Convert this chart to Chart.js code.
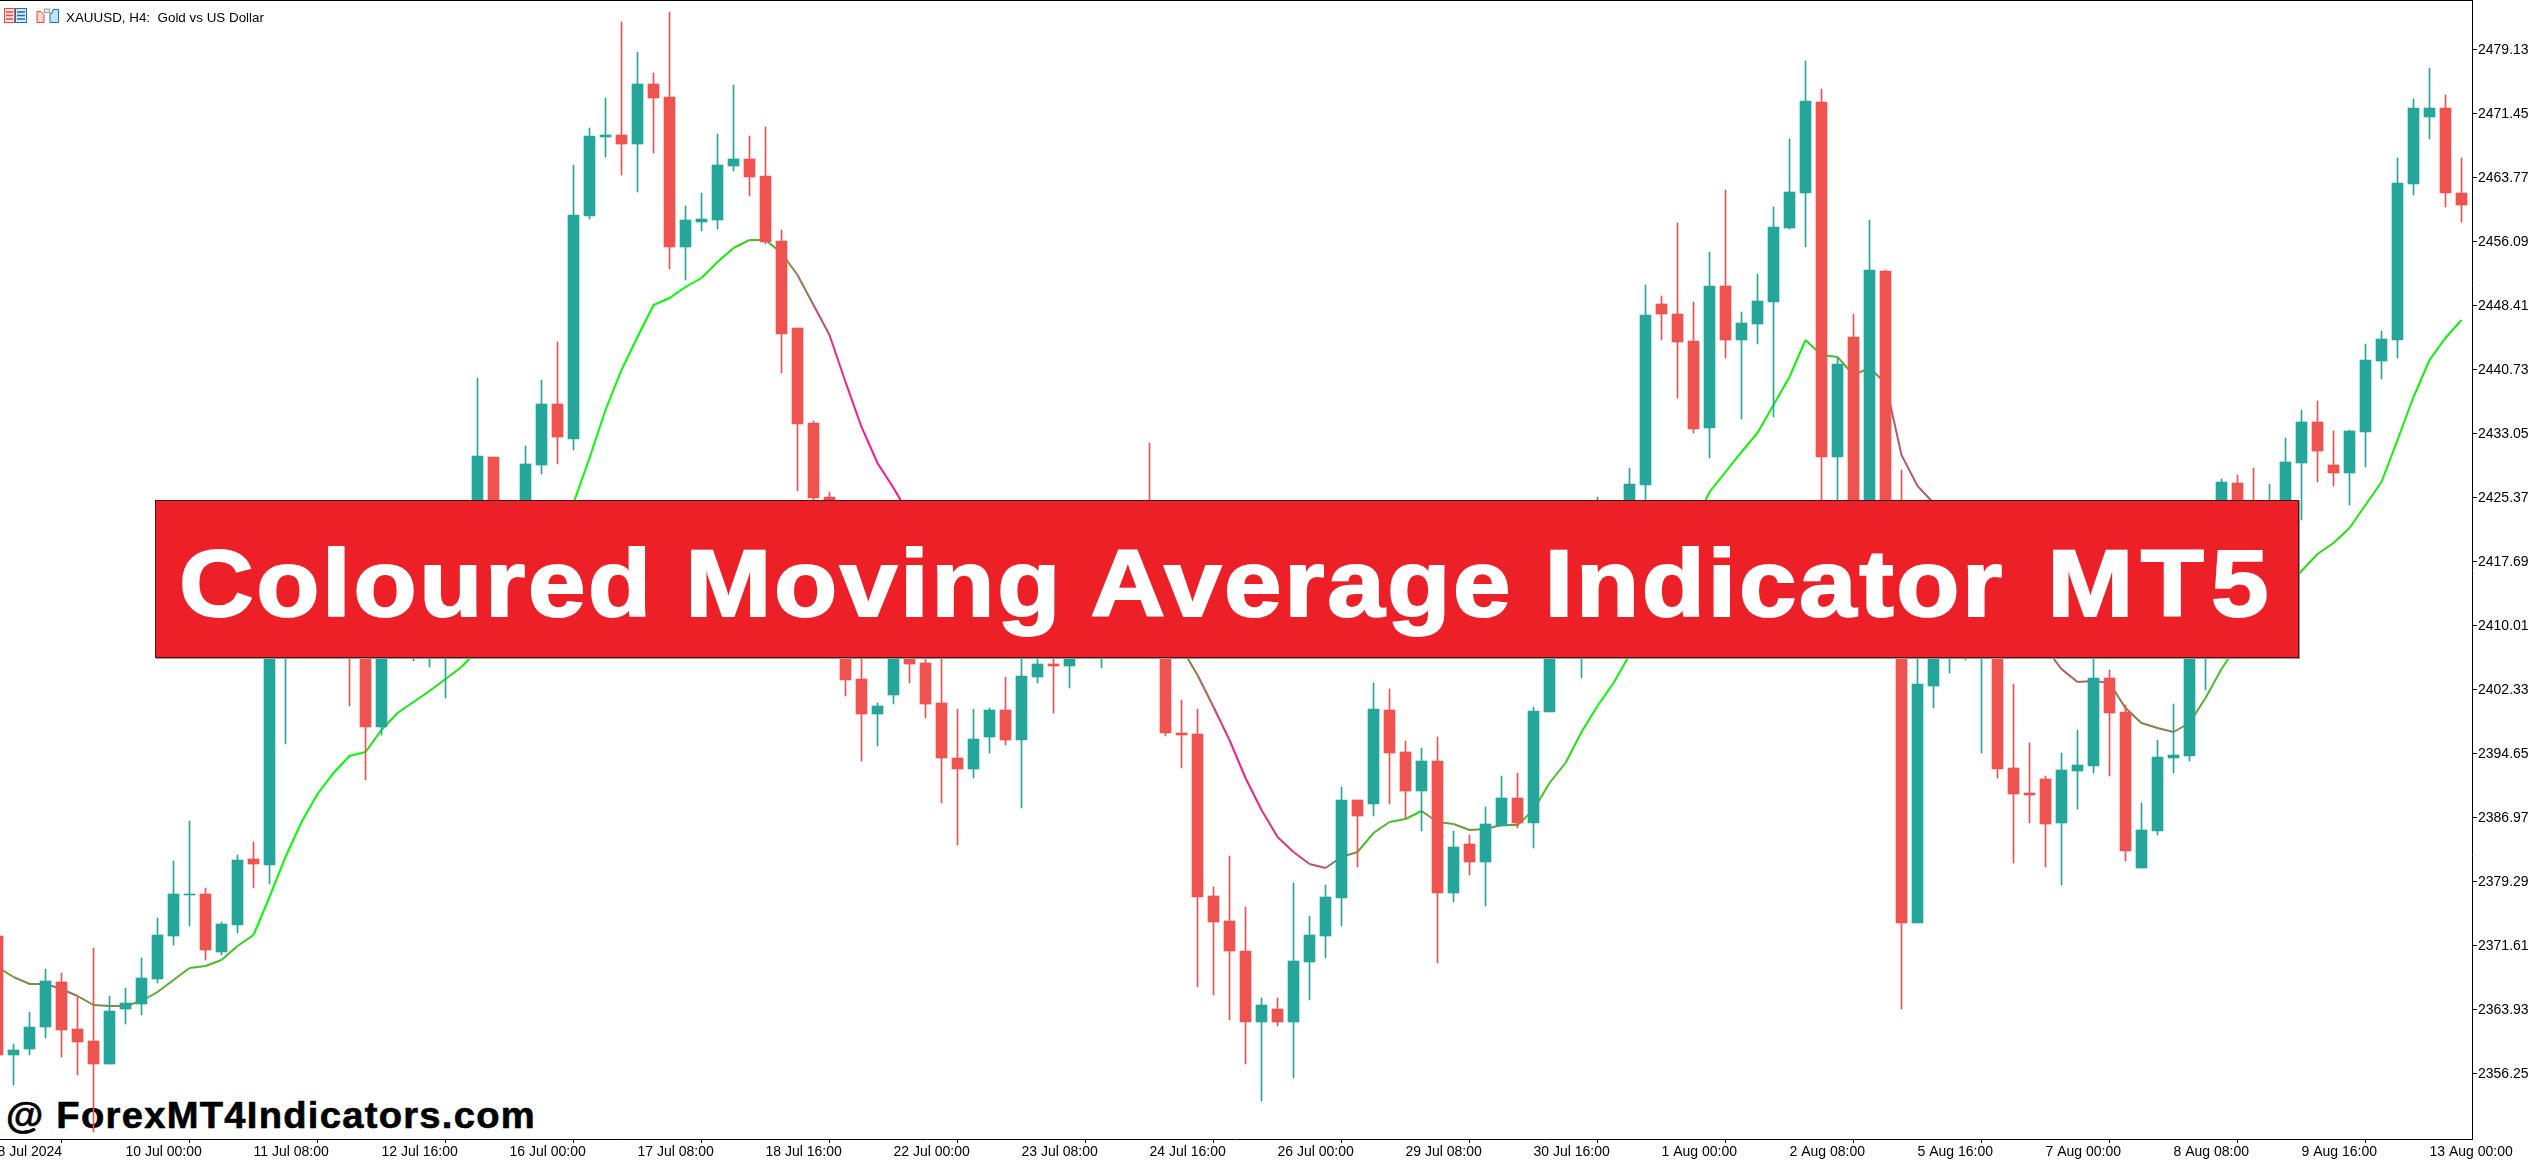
<!DOCTYPE html>
<html>
<head>
<meta charset="utf-8">
<title>XAUUSD H4</title>
<script src="https://cdn.jsdelivr.net/npm/chart.js@4"></script>
<style>
    html, body { margin: 0; padding: 0; background: #fff; width: 2532px; height: 1161px; overflow: hidden; }
    #chart { position: absolute; left: 0; top: 0; z-index: 2; }
    #topLine { position: absolute; left: 0; top: 0; width: 2473px; height: 1px; background: #000; z-index: 3; }
    #symbol { position: absolute; left: 66px; top: 10px; font: 13.4px "Liberation Sans"; color: #000; z-index: 3; white-space: pre; }
    #icons { position: absolute; left: 4px; top: 8px; z-index: 3; }
    #watermark { position: absolute; left: 6px; top: 1095px; font: 700 36px "Liberation Sans"; color: #000; letter-spacing: 1.2px; white-space: pre; z-index: 1; transform: scaleX(1.06); transform-origin: left top; -webkit-text-stroke: 0.6px #000; }
    #banner { position: absolute; left: 155px; top: 500px; width: 2142px; height: 156px; background: #ed1f27; border: 1px solid #4a1518; box-shadow: 1px 1px 0 #999; z-index: 4; }
    #banner > span { position: absolute; left: 23px; top: 29px; font: 700 94px "Liberation Sans"; color: #fff; letter-spacing: 2.4px; white-space: pre; transform: scaleX(1.1); transform-origin: left top; -webkit-text-stroke: 2px #fff; }
    #banner b { font-weight: 700; letter-spacing: 6.5px; margin-left: 10px; }
</style>
</head>
<body>
<canvas id="chart" width="2532" height="1161"></canvas>
<div id="topLine"></div>
<svg id="icons" width="56" height="16" viewBox="0 0 56 16">
    <rect x="0.5" y="0.5" width="10" height="14" fill="#fde4e1" stroke="#e8473f"/>
    <path d="M2 4h7M2 7.5h7M2 11h7" stroke="#e8473f" stroke-width="1.4"/>
    <rect x="11.5" y="0.5" width="11" height="14" fill="#d5ecfb" stroke="#1a6fb5"/>
    <path d="M13 4h8M13 7.5h8M13 11h8" stroke="#1a6fb5" stroke-width="1.4"/>
    <path d="M33 3.5h4l3 3v8h-7z" fill="#fbd5cf" stroke="#e8473f"/>
    <rect x="40.5" y="1" width="5" height="3.5" fill="#eee" stroke="#999"/>
    <path d="M46 5.5h2l1-4h5.5v13H46z" fill="#bfe3fa" stroke="#1a6fb5"/>
</svg>
<div id="symbol">XAUUSD, H4:  Gold vs US Dollar</div>
<div id="watermark">@ ForexMT4Indicators.com</div>
<div id="banner"><span>Coloured Moving Average Indicator <b>MT5</b></span></div>

<script>
// candle positions, first one sits half off the left edge
const firstCandle = -1;

const opens = [
    2372.77, 2358.49, 2359.21, 2361.85, 2367.25, 2361.61, 2360.17, 2357.41, 2364.01, 2364.61, 2367.61, 2372.77, 2377.69, 2377.81, 2370.85, 2374.09, 2382.01,
    2381.29, 2408.29, 2410.69, 2408.29, 2413.09, 2416.69, 2413.09, 2397.85, 2413.09, 2417.89, 2413.09, 2416.69, 2420.29, 2422.69, 2430.25, 2420.29, 2422.69,
    2429.29, 2436.61, 2432.41, 2459.17, 2468.65, 2468.89, 2467.81, 2475.01, 2473.45, 2455.45, 2458.45, 2458.69, 2465.17, 2466.01, 2463.97, 2456.17, 2445.73,
    2434.33, 2425.45, 2416.69, 2403.61, 2399.41, 2401.69, 2408.29, 2405.53, 2400.73, 2394.13, 2392.81, 2396.65, 2399.89, 2396.29, 2403.85, 2405.41, 2405.17,
    2407.09, 2410.69, 2413.09, 2410.69, 2416.69, 2408.29, 2397.13, 2397.01, 2377.57, 2374.57, 2370.97, 2362.45, 2364.01, 2362.45, 2369.65, 2372.77, 2377.33,
    2389.09, 2388.61, 2399.89, 2394.85, 2390.17, 2393.77, 2377.93, 2383.81, 2381.65, 2385.97, 2389.33, 2386.33, 2399.65, 2409.49, 2407.09, 2413.09, 2417.89,
    2415.49, 2426.89, 2448.61, 2447.41, 2444.17, 2433.73, 2450.77, 2444.29, 2446.21, 2448.85, 2457.73, 2461.93, 2472.85, 2430.25, 2444.65, 2417.89, 2452.57,
    2410.69, 2374.33, 2402.77, 2408.29, 2410.69, 2408.29, 2413.09, 2392.93, 2389.93, 2391.61, 2386.33, 2392.57, 2393.17, 2403.73, 2399.65, 2380.93, 2385.37,
    2394.13, 2394.37, 2408.29, 2413.09, 2427.13, 2420.29, 2417.89, 2422.69, 2429.53, 2434.45, 2429.29, 2428.33, 2433.25, 2441.77, 2444.29, 2463.01, 2471.05,
    2472.13, 2461.93,
];
const highs = [
    2373.49, 2359.81, 2363.65, 2368.81, 2368.33, 2365.45, 2371.33, 2365.57, 2366.53, 2370.13, 2374.93, 2381.77, 2386.57, 2378.53, 2374.45, 2382.49, 2384.05,
    2409.49, 2413.09, 2412.49, 2414.29, 2417.89, 2419.09, 2414.29, 2414.29, 2419.69, 2420.29, 2419.09, 2422.09, 2424.49, 2439.73, 2430.25, 2423.89, 2431.57,
    2439.49, 2444.05, 2465.29, 2469.73, 2473.33, 2482.45, 2478.85, 2476.33, 2483.65, 2460.37, 2461.93, 2469.01, 2474.89, 2468.77, 2469.85, 2457.49, 2445.73,
    2434.57, 2426.05, 2417.89, 2406.49, 2400.73, 2410.69, 2409.49, 2407.69, 2407.09, 2399.99, 2399.99, 2400.13, 2403.85, 2407.69, 2407.09, 2408.29, 2408.29,
    2411.89, 2414.29, 2417.89, 2417.89, 2431.93, 2411.89, 2401.09, 2399.99, 2378.65, 2382.37, 2376.25, 2365.33, 2365.33, 2379.13, 2375.17, 2378.89, 2390.65,
    2389.09, 2403.13, 2402.41, 2396.17, 2395.33, 2396.65, 2385.37, 2384.89, 2388.25, 2391.97, 2392.33, 2400.25, 2410.69, 2411.29, 2414.29, 2425.45, 2420.29,
    2428.93, 2450.89, 2449.57, 2458.33, 2448.85, 2454.85, 2462.29, 2447.65, 2452.21, 2460.25, 2468.41, 2477.77, 2474.41, 2442.13, 2447.41, 2458.69, 2452.69,
    2428.69, 2417.89, 2410.69, 2413.09, 2411.89, 2414.29, 2414.29, 2403.01, 2395.93, 2391.97, 2394.73, 2397.49, 2408.29, 2404.69, 2400.49, 2388.73, 2396.29,
    2400.61, 2410.09, 2413.09, 2427.61, 2428.09, 2428.93, 2427.01, 2432.53, 2435.89, 2436.97, 2433.37, 2433.49, 2443.81, 2445.37, 2466.13, 2473.21, 2476.93,
    2473.69, 2466.13,
];
const lows = [
    2357.89, 2354.89, 2358.49, 2360.53, 2358.25, 2356.09, 2349.25, 2357.41, 2362.21, 2363.29, 2367.13, 2371.69, 2373.97, 2369.89, 2370.49, 2373.13, 2378.53,
    2379.01, 2395.81, 2407.09, 2407.33, 2411.89, 2400.37, 2391.49, 2396.89, 2411.89, 2405.77, 2405.05, 2401.33, 2419.09, 2421.49, 2417.89, 2419.09, 2422.09,
    2428.21, 2429.41, 2431.09, 2458.81, 2466.25, 2464.09, 2462.05, 2466.73, 2452.81, 2451.49, 2457.37, 2457.61, 2464.57, 2461.57, 2455.81, 2440.33, 2426.17,
    2424.49, 2416.09, 2401.57, 2393.77, 2395.57, 2400.61, 2403.13, 2398.93, 2388.73, 2383.69, 2391.73, 2394.73, 2395.69, 2388.13, 2403.13, 2399.53, 2402.53,
    2406.49, 2404.93, 2409.49, 2409.49, 2407.09, 2396.77, 2392.93, 2366.65, 2365.69, 2362.69, 2357.41, 2352.97, 2361.97, 2355.73, 2365.09, 2370.13, 2373.97,
    2381.05, 2387.17, 2388.61, 2386.81, 2385.37, 2369.53, 2376.85, 2380.09, 2376.37, 2385.97, 2385.73, 2383.33, 2399.65, 2406.49, 2403.73, 2411.89, 2414.29,
    2414.29, 2421.49, 2444.29, 2437.33, 2433.13, 2430.13, 2442.13, 2434.81, 2443.81, 2435.05, 2457.61, 2455.45, 2421.49, 2417.89, 2416.69, 2415.49, 2408.29,
    2364.01, 2374.33, 2400.13, 2404.33, 2405.89, 2394.73, 2391.73, 2381.53, 2386.33, 2381.05, 2378.89, 2388.01, 2392.33, 2391.97, 2381.77, 2380.93, 2384.89,
    2392.33, 2393.77, 2402.29, 2410.69, 2419.09, 2416.69, 2416.69, 2420.29, 2422.69, 2427.25, 2426.77, 2424.49, 2429.05, 2439.61, 2442.13, 2461.69, 2468.41,
    2460.25, 2458.45,
];
const closes = [
    2358.49, 2359.09, 2361.85, 2367.37, 2361.49, 2360.05, 2357.41, 2363.77, 2364.73, 2367.73, 2372.89, 2377.81, 2377.81, 2371.09, 2374.21, 2381.89, 2381.41,
    2408.29, 2410.69, 2408.29, 2413.09, 2416.69, 2413.09, 2397.85, 2413.09, 2417.89, 2413.09, 2416.69, 2420.29, 2422.69, 2430.37, 2420.29, 2422.69, 2429.41,
    2436.61, 2432.65, 2459.29, 2468.77, 2468.89, 2467.81, 2475.01, 2473.33, 2455.45, 2458.69, 2458.81, 2465.29, 2466.01, 2463.85, 2456.05, 2445.01, 2434.21,
    2425.33, 2416.69, 2403.49, 2399.41, 2400.37, 2408.29, 2405.41, 2400.61, 2394.13, 2392.81, 2396.41, 2399.89, 2396.29, 2403.97, 2405.41, 2405.17, 2407.09,
    2410.69, 2413.09, 2410.69, 2416.69, 2408.29, 2397.13, 2396.89, 2377.45, 2374.45, 2370.97, 2362.45, 2364.49, 2362.45, 2369.77, 2372.89, 2377.45, 2389.09,
    2387.17, 2399.99, 2394.73, 2390.17, 2393.77, 2377.93, 2383.45, 2381.65, 2386.21, 2389.33, 2386.33, 2399.77, 2409.49, 2407.09, 2413.09, 2417.89, 2415.49,
    2427.01, 2447.29, 2447.41, 2444.05, 2433.61, 2450.77, 2444.29, 2446.33, 2448.97, 2457.85, 2462.05, 2472.97, 2430.25, 2441.41, 2417.89, 2452.69, 2410.69,
    2374.33, 2403.01, 2408.29, 2410.69, 2408.29, 2413.09, 2392.81, 2389.81, 2389.69, 2386.21, 2392.69, 2393.29, 2403.73, 2399.53, 2382.97, 2385.49, 2394.25,
    2394.49, 2408.29, 2411.89, 2427.25, 2420.29, 2417.89, 2422.69, 2429.65, 2434.45, 2430.97, 2428.33, 2433.37, 2441.89, 2444.41, 2463.13, 2472.13, 2472.13,
    2461.93, 2460.49,
];
const movingAverage = [
    2369.05, 2367.85, 2367.01, 2367.01, 2366.41, 2365.57, 2364.49, 2364.37, 2364.37, 2364.97, 2366.05, 2367.49, 2368.93, 2369.17, 2369.89, 2371.57, 2372.89,
    2377.45, 2382.25, 2386.45, 2389.81, 2392.33, 2394.37, 2394.85, 2397.49, 2399.53, 2400.85, 2402.17, 2403.61, 2405.05, 2407.09, 2408.89, 2411.29, 2414.89,
    2418.49, 2421.49, 2424.73, 2430.13, 2435.89, 2440.69, 2444.65, 2448.49, 2449.33, 2450.65, 2451.73, 2453.65, 2455.33, 2456.29, 2456.29, 2454.73, 2452.09,
    2448.49, 2444.89, 2439.25, 2433.85, 2429.53, 2426.53, 2423.29, 2420.29, 2417.29, 2414.29, 2412.49, 2411.29, 2410.45, 2410.09, 2410.09, 2410.09, 2410.45,
    2411.29, 2411.89, 2411.89, 2411.29, 2410.09, 2408.89, 2407.33, 2404.09, 2400.25, 2396.29, 2391.73, 2387.89, 2384.65, 2382.85, 2381.41, 2380.93, 2382.25,
    2382.85, 2385.13, 2386.45, 2386.81, 2387.77, 2386.45, 2386.21, 2385.49, 2385.61, 2386.09, 2386.09, 2387.89, 2391.13, 2393.53, 2397.25, 2400.37, 2403.13,
    2406.49, 2410.45, 2414.29, 2418.25, 2422.09, 2426.05, 2428.45, 2430.85, 2433.13, 2436.49, 2439.85, 2444.29, 2442.49, 2442.25, 2440.09, 2440.93, 2439.13,
    2430.49, 2426.77, 2424.73, 2422.57, 2420.29, 2417.89, 2415.49, 2413.09, 2410.69, 2407.33, 2404.81, 2403.25, 2403.37, 2403.13, 2400.13, 2398.33, 2397.73,
    2397.25, 2398.33, 2401.33, 2404.81, 2407.69, 2410.09, 2412.13, 2414.29, 2416.57, 2418.61, 2419.93, 2421.73, 2424.49, 2427.25, 2432.29, 2437.45, 2441.89,
    2444.53, 2446.69,
];
// colour buffer of the indicator: 0 = rising (green), 1 = falling (pink)
const maTrend = [
    0.35, 0.4, 0.5, 0.5, 0.6, 0.6, 0.55, 0.5, 0.5, 0.4, 0.35, 0.35, 0.35, 0.3, 0.3, 0.25, 0.2,
    0, 0, 0, 0, 0, 0, 0, 0.1, 0.1, 0.1, 0.1, 0.1, 0.1, 0, 0, 0, 0,
    0, 0, 0, 0, 0, 0, 0, 0, 0, 0, 0, 0.1, 0.12, 0.2, 0.25, 0.35, 0.5,
    0.6, 0.75, 0.9, 1, 1, 1, 1, 1, 1, 1, 1, 1, 1, 1, 1, 1, 1,
    1, 1, 1, 1, 1, 1, 0.55, 0.55, 0.65, 0.85, 0.95, 0.95, 0.9, 0.85, 0.8, 0.75, 0.6,
    0.5, 0.3, 0.3, 0.25, 0.2, 0.35, 0.4, 0.45, 0.45, 0.45, 0.45, 0.2, 0.25, 0.3, 0.15, 0.05, 0,
    0.05, 0.05, 0.05, 0.05, 0.05, 0.05, 0.05, 0.05, 0.05, 0.05, 0.05, 0.05, 0.2, 0.25, 0.35, 0.4, 0.5,
    0.7, 0.7, 0.7, 0.8, 0.8, 0.8, 0.8, 0.8, 0.8, 0.8, 0.7, 0.7, 0.65, 0.6, 0.55, 0.55, 0.55,
    0.55, 0.45, 0.35, 0.3, 0.2, 0.15, 0.15, 0.15, 0.15, 0.15, 0.15, 0.15, 0.1, 0.1, 0.05, 0.05, 0.05,
    0.05, 0.05,
];
const priceTicks = [
    2479.13, 2471.45, 2463.77, 2456.09, 2448.41, 2440.73, 2433.05, 2425.37, 2417.69, 2410.01, 2402.33, 2394.65, 2386.97, 2379.29, 2371.61, 2363.93, 2356.25,
];
const timeLabels = [
    "8 Jul 2024", "10 Jul 00:00", "11 Jul 08:00", "12 Jul 16:00", "16 Jul 00:00", "17 Jul 08:00", "18 Jul 16:00", "22 Jul 00:00", "23 Jul 08:00", "24 Jul 16:00",
    "26 Jul 00:00", "29 Jul 08:00", "30 Jul 16:00", "1 Aug 00:00", "2 Aug 08:00", "5 Aug 16:00", "7 Aug 00:00", "8 Aug 08:00", "9 Aug 16:00", "13 Aug 00:00",
];

const BULL = "#26a69a";
const BEAR = "#ef5350";
const candleIdx = opens.map((_, i) => firstCandle + i);
const candleColors = opens.map((o, i) => (closes[i] >= o ? BULL : BEAR));
const labelFont = { family: "Liberation Sans", size: 14 };

function trendColor(t) {
    const r = Math.round(255 * t);
    const g = Math.round(255 + (20 - 255) * t);
    const b = Math.round(147 * t);
    return `rgb(${r},${g},${b})`;
}

new Chart(document.getElementById("chart"), {
    data: {
        datasets: [
            {
                type: "bar",
                order: 1,
                grouped: false,
                barThickness: 11,
                backgroundColor: candleColors,
                data: candleIdx.map((n, i) => ({ x: n, y: [opens[i], closes[i]] })),
            },
            {
                type: "bar",
                order: 2,
                grouped: false,
                barThickness: 1,
                backgroundColor: candleColors,
                data: candleIdx.map((n, i) => ({ x: n, y: [lows[i], highs[i]] })),
            },
            {
                type: "line",
                order: 3,
                borderWidth: 2,
                pointRadius: 0,
                tension: 0,
                borderColor: trendColor(0),
                segment: { borderColor: (c) => trendColor(maTrend[c.p1DataIndex]) },
                data: candleIdx.map((n, i) => ({ x: n, y: movingAverage[i] })),
            },
        ],
    },
    options: {
        responsive: false,
        animation: false,
        devicePixelRatio: 1,
        layout: { padding: { top: 1, left: 0, right: 0, bottom: 0 } },
        plugins: { legend: { display: false }, tooltip: { enabled: false } },
        scales: {
            x: {
                type: "linear",
                position: "bottom",
                offset: false,
                min: -0.84375,
                max: 153.65625,
                afterBuildTicks: (s) => {
                    s.ticks = timeLabels.map((_, k) => ({ value: firstCandle + k * 8 }));
                },
                afterFit: (s) => {
                    s.height = 22;
                    s.paddingLeft = 0;
                    s.paddingRight = 0;
                },
                grid: { drawOnChartArea: false, drawTicks: true, tickLength: 4, tickColor: "#000" },
                border: { display: true, color: "#000", width: 1 },
                ticks: {
                    autoSkip: false,
                    maxRotation: 0,
                    minRotation: 0,
                    align: "start",
                    padding: 1,
                    color: "#000",
                    font: labelFont,
                    callback: (v, i) => timeLabels[i],
                },
            },
            y: {
                type: "linear",
                position: "right",
                min: 2348.41,
                max: 2484.97,
                afterBuildTicks: (s) => {
                    s.ticks = priceTicks.map((p) => ({ value: p }));
                },
                afterFit: (s) => {
                    s.width = 60;
                    s.paddingTop = 0;
                    s.paddingBottom = 0;
                },
                grid: { drawOnChartArea: false, drawTicks: true, tickLength: 5, tickColor: "#000" },
                border: { display: true, color: "#000", width: 1 },
                ticks: {
                    autoSkip: false,
                    padding: 1,
                    color: "#000",
                    font: labelFont,
                    callback: (v) => v.toFixed(2),
                },
            },
        },
    },
});
</script>
</body>
</html>
